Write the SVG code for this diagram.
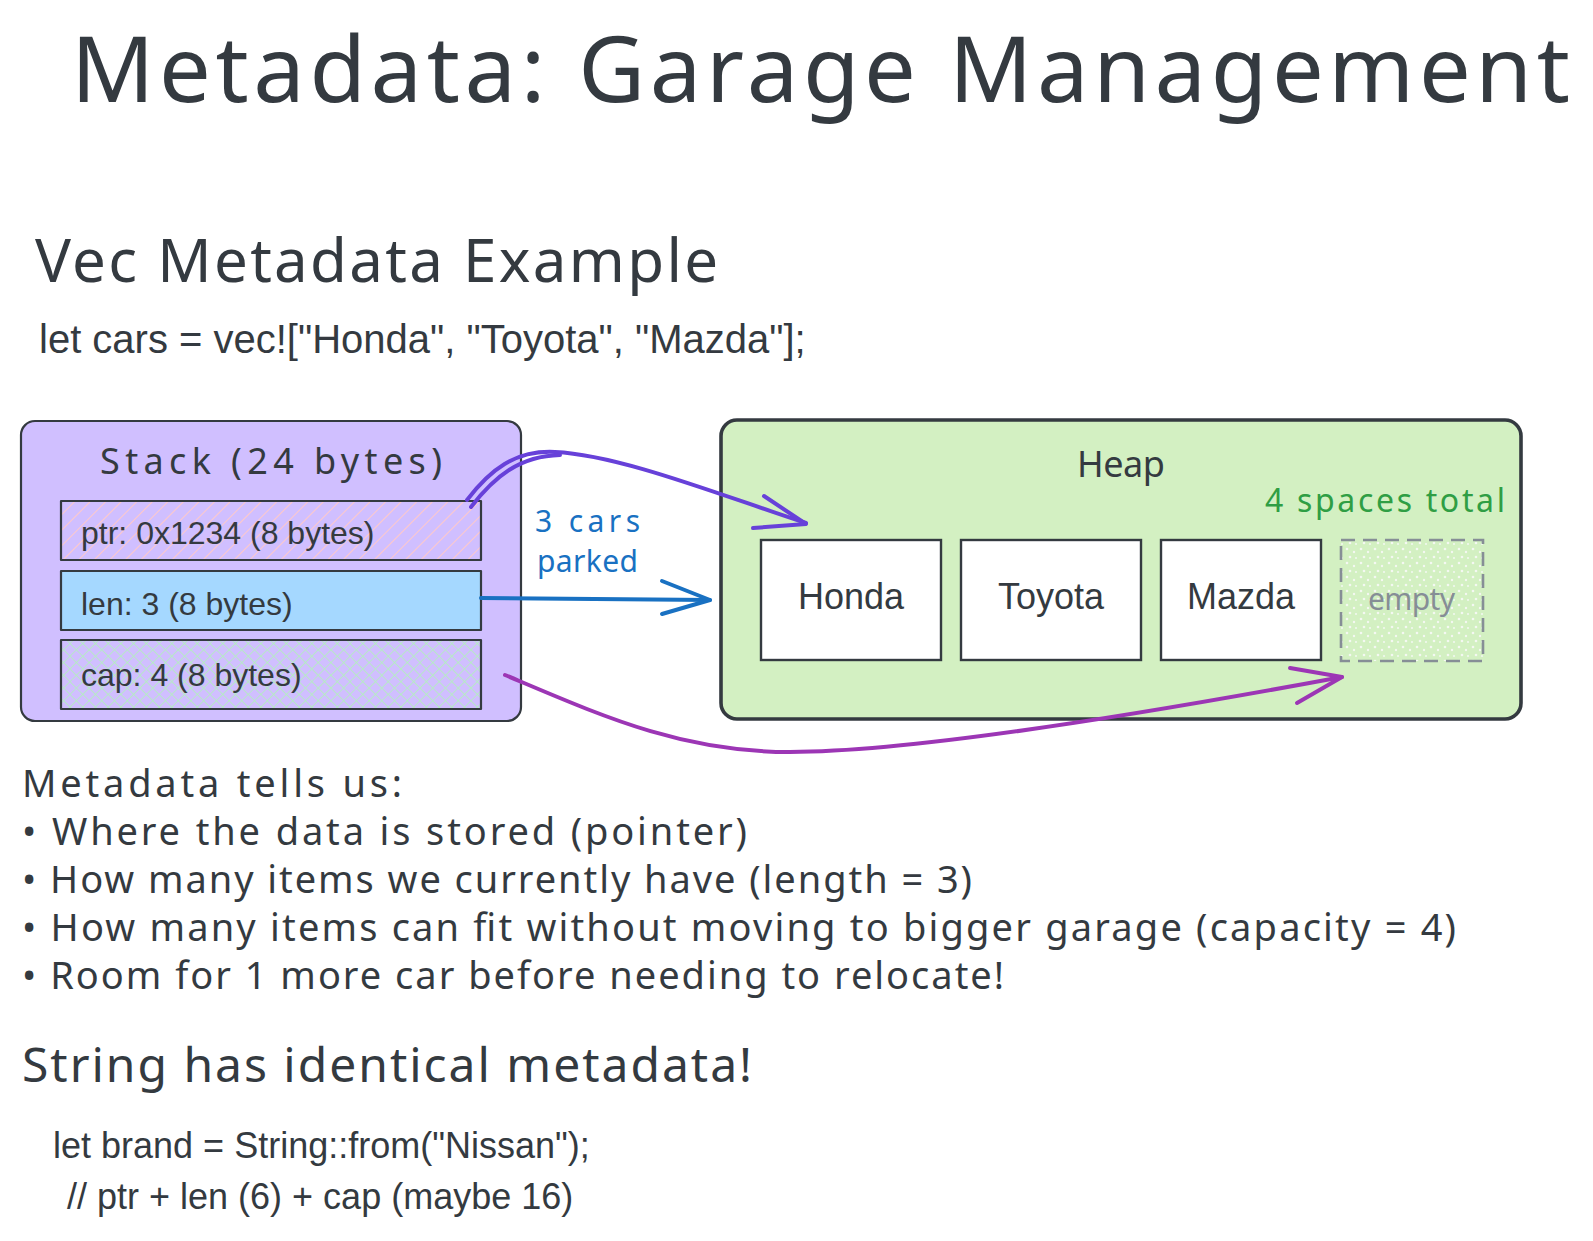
<svg xmlns="http://www.w3.org/2000/svg" width="1593" height="1241" viewBox="0 0 1593 1241">
<style>
.hand{font-family:"Noto Sans","DejaVu Sans",sans-serif;fill:#343a40}
.code{font-family:"Liberation Sans",Arial,sans-serif;fill:#343a40}
.box{stroke:#343a40;stroke-width:2.2;stroke-linejoin:round}
.car{fill:#ffffff;stroke:#343a40;stroke-width:2.4}
.conn{fill:none;stroke-width:4;stroke-linecap:round;stroke-linejoin:round}
</style>
<defs>
<pattern id="hatchPink" patternUnits="userSpaceOnUse" width="11" height="11" patternTransform="rotate(45)">
<rect width="11" height="11" fill="#d0bfff"/>
<line x1="0" y1="0" x2="0" y2="11" stroke="#ffc9c9" stroke-width="2"/>
</pattern>
<pattern id="crossGreen" patternUnits="userSpaceOnUse" width="9" height="9" patternTransform="rotate(45)">
<rect width="9" height="9" fill="#d0bfff"/>
<line x1="0" y1="0" x2="0" y2="9" stroke="#b2f2bb" stroke-width="1.6"/>
<line x1="0" y1="0" x2="9" y2="0" stroke="#b2f2bb" stroke-width="1.6"/>
</pattern>
<pattern id="dots" patternUnits="userSpaceOnUse" width="14" height="14">
<rect width="14" height="14" fill="#d3f0c2"/>
<circle cx="3" cy="3" r="1.3" fill="#f4f8f2"/>
<circle cx="10" cy="6" r="1.2" fill="#f4f8f2"/>
<circle cx="6" cy="11" r="1.3" fill="#f4f8f2"/>
<circle cx="12" cy="12" r="1" fill="#f4f8f2"/>
</pattern>
</defs>

<g id="title">
<text class="hand" x="71" y="102" font-size="92" textLength="1499">Metadata: Garage Management</text>
</g>
<g id="subtitle">
<text class="hand" x="35" y="282" font-size="60" textLength="683">Vec Metadata Example</text>
<text class="code" x="39" y="353" font-size="40">let cars = vec!["Honda", "Toyota", "Mazda"];</text>
</g>

<g id="stack">
<rect class="box" x="21" y="421" width="500" height="300" rx="14" fill="#d0bfff"/>
<text class="hand" x="100" y="474" font-size="36" textLength="342">Stack (24 bytes)</text>
</g>
<g id="ptr">
<rect class="box" x="61" y="501" width="420" height="59" fill="url(#hatchPink)"/>
<text class="code" x="81" y="544" font-size="32">ptr: 0x1234 (8 bytes)</text>
</g>
<g id="len">
<rect class="box" x="61" y="571" width="420" height="59" fill="#a5d8ff"/>
<text class="code" x="81" y="615" font-size="32">len: 3 (8 bytes)</text>
</g>
<g id="cap">
<rect class="box" x="61" y="640" width="420" height="69" fill="url(#crossGreen)"/>
<text class="code" x="81" y="686" font-size="32">cap: 4 (8 bytes)</text>
</g>

<g id="heap">
<rect x="721" y="420" width="800" height="299" rx="16" fill="#d3f0c2" stroke="#343a40" stroke-width="3.6"/>
<text class="hand" x="1077" y="477" font-size="36" textLength="88">Heap</text>
<text class="hand" x="1265" y="512" font-size="32" textLength="240" style="fill:#2f9e44">4 spaces total</text>
</g>
<g id="honda">
<rect class="car" x="761" y="540" width="180" height="120"/>
<text class="code" x="851" y="609" font-size="36" text-anchor="middle">Honda</text>
</g>
<g id="toyota">
<rect class="car" x="961" y="540" width="180" height="120"/>
<text class="code" x="1051" y="609" font-size="36" text-anchor="middle">Toyota</text>
</g>
<g id="mazda">
<rect class="car" x="1161" y="540" width="160" height="120"/>
<text class="code" x="1241" y="609" font-size="36" text-anchor="middle">Mazda</text>
</g>
<g id="empty">
<rect x="1341" y="540" width="142" height="121" fill="url(#dots)" stroke="#868e96" stroke-width="2.6" stroke-dasharray="14 8"/>
<text class="hand" x="1368" y="610" font-size="30" textLength="87" style="fill:#868e96">empty</text>
</g>

<g id="label-parked">
<text class="hand" x="535" y="532" font-size="30" textLength="105" style="fill:#1971c2">3 cars</text>
<text class="hand" x="537" y="572" font-size="30" textLength="101" style="fill:#1971c2">parked</text>
</g>

<g id="connectors">
<path class="conn" stroke="#6741d9" d="M467,500 C490,470 515,450 555,452 C620,455 720,495 806,523"/>
<path class="conn" stroke="#6741d9" stroke-width="2" d="M471,507 C495,476 520,456 560,455"/>
<path class="conn" stroke="#6741d9" d="M764,496 L806,524 L753,528"/>
<path class="conn" stroke="#1971c2" d="M481,598 L710,600"/>
<path class="conn" stroke="#1971c2" d="M662,581 L710,600 L662,614"/>
<path class="conn" stroke="#9c36b5" d="M505,675 C600,715 680,752 790,752 C900,752 1100,722 1342,677"/>
<path class="conn" stroke="#9c36b5" d="M1290,668 L1342,677 L1297,703"/>
</g>

<g id="notes">
<text class="hand" x="22" y="797" font-size="38" textLength="380">Metadata tells us:</text>
<text class="hand" x="22" y="845" font-size="38" textLength="725">• Where the data is stored (pointer)</text>
<text class="hand" x="22" y="893" font-size="38" textLength="950">• How many items we currently have (length = 3)</text>
<text class="hand" x="22" y="941" font-size="38" textLength="1434">• How many items can fit without moving to bigger garage (capacity = 4)</text>
<text class="hand" x="22" y="989" font-size="38" textLength="982">• Room for 1 more car before needing to relocate!</text>
</g>
<g id="string-note">
<text class="hand" x="22" y="1082" font-size="48" textLength="730">String has identical metadata!</text>
<text class="code" x="53" y="1158" font-size="36">let brand = String::from("Nissan");</text>
<text class="code" x="67" y="1209" font-size="36">// ptr + len (6) + cap (maybe 16)</text>
</g>
</svg>
